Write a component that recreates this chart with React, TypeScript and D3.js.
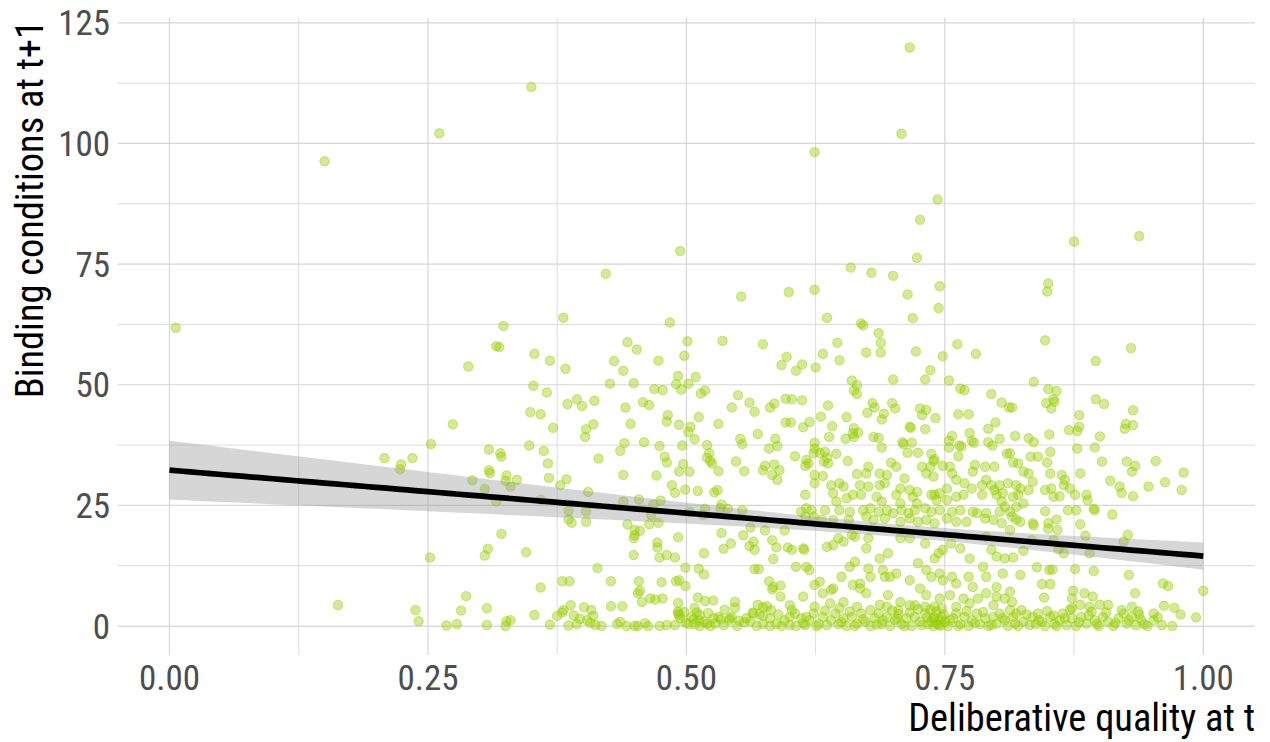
import React from "react";
import * as d3 from "d3";

// ---- Data (x = deliberative quality at t, y = binding conditions at t+1) ----
const groupOutliers: [number, number][] = [
  [0.150, 96.3], [0.261, 102.1], [0.350, 111.7], [0.422, 73.0], [0.494, 77.7],
  [0.716, 119.9], [0.708, 102.0], [0.624, 98.2], [0.743, 88.4], [0.726, 84.2], [0.723, 76.3],
  [0.875, 79.7], [0.938, 80.8], [0.659, 74.3], [0.679, 73.2], [0.700, 72.6], [0.745, 70.4],
  [0.714, 68.7], [0.850, 71.0], [0.849, 69.3], [0.599, 69.2], [0.624, 69.7], [0.553, 68.3],
  [0.006, 61.8], [0.163, 4.35],
];

const groupA: [number, number][] = [
  [0.381, 63.9], [0.323, 62.2], [0.316, 58.0], [0.319, 57.8], [0.353, 56.4], [0.368, 55.0], [0.383, 53.3],
  [0.289, 53.8], [0.352, 49.8], [0.365, 48.4], [0.385, 46.0], [0.394, 47.0], [0.399, 45.6], [0.349, 44.3],
  [0.359, 43.9], [0.371, 41.1], [0.403, 40.8], [0.402, 39.2], [0.274, 41.8], [0.253, 37.7], [0.348, 37.4],
  [0.362, 36.3], [0.366, 33.7], [0.309, 36.6], [0.320, 35.8], [0.321, 35.1], [0.208, 34.8], [0.224, 33.5],
  [0.223, 32.5], [0.235, 34.8], [0.309, 32.3],
  [0.293, 30.2], [0.310, 31.7], [0.326, 31.2], [0.325, 30.1], [0.330, 28.9], [0.336, 30.3], [0.305, 28.4],
  [0.316, 25.8], [0.359, 26.2], [0.367, 30.7], [0.378, 29.2], [0.384, 30.4], [0.405, 27.8], [0.386, 23.9],
  [0.386, 22.1], [0.389, 21.4], [0.403, 21.6], [0.403, 23.8], [0.321, 19.1], [0.308, 16.0], [0.305, 14.6],
  [0.345, 15.3], [0.252, 14.2], [0.380, 9.3], [0.387, 9.3], [0.359, 8.0], [0.287, 6.2], [0.238, 3.3],
  [0.241, 1.0], [0.282, 3.2], [0.307, 3.7], [0.268, 0.1], [0.278, 0.4], [0.307, 0.2], [0.325, 0],
  [0.326, 1.0], [0.330, 1.2], [0.353, 2.3], [0.368, 0.3], [0.375, 2.1], [0.380, 2.8], [0.381, 3.3],
  [0.388, 4.3], [0.386, 0.1], [0.394, 0.4], [0.401, 3.9], [0.397, 1.5], [0.391, 2.2],
];

const groupB: [number, number][] = [
  [0.484, 62.9], [0.443, 58.8], [0.452, 57.3], [0.501, 59.0], [0.535, 59.1], [0.574, 58.4], [0.597, 55.8],
  [0.592, 54.1], [0.606, 52.9], [0.430, 54.9], [0.439, 52.9], [0.473, 55.0], [0.498, 56.0], [0.492, 51.8],
  [0.509, 51.6], [0.490, 50.1], [0.495, 49.0], [0.502, 50.2], [0.426, 50.2], [0.449, 50.3], [0.469, 49.1],
  [0.477, 48.9], [0.514, 48.2], [0.518, 48.8], [0.411, 46.7], [0.441, 45.3], [0.458, 46.4], [0.464, 45.8],
  [0.550, 47.8], [0.561, 46.3], [0.544, 45.3], [0.566, 44.4], [0.581, 45.3], [0.585, 46.1], [0.596, 47.1],
  [0.602, 47.0], [0.482, 43.7], [0.481, 42.4], [0.493, 41.7], [0.512, 43.3], [0.410, 41.8], [0.446, 41.9],
  [0.504, 41.3], [0.502, 40.2], [0.508, 38.7], [0.531, 41.9], [0.569, 39.8], [0.596, 42.2], [0.601, 42.2],
  [0.552, 38.8], [0.554, 37.7], [0.586, 38.8], [0.588, 37.3], [0.580, 36.8], [0.440, 37.9], [0.436, 36.3],
  [0.459, 38.1], [0.474, 37.3], [0.496, 37.4], [0.520, 37.5], [0.522, 35.8], [0.520, 34.9], [0.523, 34.2],
  [0.525, 33.7], [0.479, 35.1], [0.481, 33.9], [0.415, 34.7], [0.548, 34.1], [0.576, 33.2], [0.585, 33.5],
  [0.605, 35.2], [0.497, 33.6],
  [0.439, 31.3], [0.471, 31.2], [0.493, 32.0], [0.503, 32.0], [0.531, 32.1], [0.556, 32.1], [0.574, 32.3],
  [0.583, 31.3], [0.588, 30.3], [0.590, 32.3], [0.486, 29.2], [0.489, 27.6], [0.499, 28.3], [0.511, 28.0],
  [0.527, 27.7], [0.530, 28.2], [0.439, 25.8], [0.454, 26.2], [0.468, 25.2], [0.475, 26.0], [0.534, 25.2],
  [0.540, 24.3], [0.533, 24.4], [0.554, 24.0], [0.518, 24.3], [0.503, 23.7], [0.516, 23.0], [0.466, 23.0],
  [0.443, 21.1], [0.464, 21.1], [0.473, 21.4], [0.450, 19.9], [0.455, 19.7], [0.449, 18.2], [0.450, 18.8],
  [0.492, 18.4], [0.472, 17.3], [0.472, 16.3], [0.449, 14.7], [0.474, 14.2], [0.481, 14.7], [0.489, 14.2],
  [0.517, 15.1], [0.534, 19.3], [0.536, 16.0], [0.543, 17.1], [0.555, 18.8], [0.562, 20.4], [0.561, 16.6],
  [0.565, 17.5], [0.566, 15.8], [0.576, 19.8], [0.583, 17.8], [0.587, 16.3], [0.584, 13.9], [0.595, 19.8],
  [0.598, 16.3], [0.602, 15.8], [0.499, 12.1], [0.512, 11.9], [0.517, 10.7], [0.566, 11.8], [0.570, 11.8],
  [0.606, 12.3], [0.414, 12.0], [0.427, 9.3], [0.454, 9.3], [0.476, 9.1], [0.490, 9.3], [0.493, 9.5],
  [0.499, 8.3], [0.453, 6.8], [0.455, 7.3], [0.457, 5.0], [0.465, 5.7], [0.470, 5.5], [0.477, 5.7],
  [0.427, 4.1], [0.438, 4.1], [0.492, 4.8], [0.492, 3.0], [0.493, 2.3], [0.511, 5.9], [0.518, 5.2],
  [0.526, 5.3], [0.508, 3.8], [0.510, 2.8], [0.547, 5.0], [0.547, 3.8], [0.580, 9.3], [0.584, 8.1],
  [0.583, 7.6], [0.591, 8.4], [0.591, 6.1], [0.569, 4.4], [0.574, 3.9], [0.578, 4.1], [0.582, 3.3],
  [0.564, 2.8], [0.571, 2.5], [0.574, 2.1], [0.581, 1.6], [0.600, 4.3], [0.602, 3.3], [0.600, 1.9],
  [0.605, 2.6],
  [0.408, 3.3], [0.410, 2.1], [0.407, 0.7], [0.412, 0.2], [0.418, 0], [0.433, 0.4], [0.436, 0.9],
  [0.442, 0], [0.450, 0], [0.453, 0], [0.463, 0], [0.474, 0], [0.481, 0.2], [0.489, 0.2], [0.492, 2.6],
  [0.494, 1.6], [0.499, 0.7], [0.502, 0.4], [0.505, 1.9], [0.507, 1.4], [0.508, 0.4], [0.512, 1.2],
  [0.513, 0], [0.513, 2.3], [0.517, 0.9], [0.523, 0], [0.526, 1.6], [0.528, 0.5], [0.531, 1.9],
  [0.533, 1.4], [0.536, 0.2], [0.541, 1.2], [0.542, 1.6], [0.544, 1.9], [0.549, 0], [0.551, 1.1],
  [0.558, 1.6], [0.565, 2.6], [0.568, 0], [0.574, 0.4], [0.581, 0], [0.587, 0.4], [0.592, 0],
  [0.600, 0.2], [0.606, 0], [0.404, 1.2], [0.498, 2.9], [0.521, 2.7], [0.537, 3.4], [0.556, 0.8],
  [0.562, 1.0], [0.589, 2.4], [0.595, 1.2], [0.460, 0.6], [0.520, 0.5],
];

const groupC: [number, number][] = [
  [0.744, 65.9], [0.636, 63.9], [0.719, 63.8], [0.669, 62.7], [0.671, 62.3], [0.686, 60.7], [0.688, 58.7],
  [0.646, 58.7], [0.632, 56.4], [0.648, 55.1], [0.674, 56.7], [0.688, 56.7], [0.722, 56.9], [0.748, 55.9],
  [0.762, 58.4], [0.780, 56.4], [0.612, 54.2], [0.625, 53.6], [0.736, 53.0], [0.731, 51.1], [0.700, 51.1],
  [0.754, 50.9], [0.660, 50.9], [0.665, 49.9], [0.662, 48.8], [0.665, 48.1], [0.765, 49.2], [0.769, 48.9],
  [0.795, 48.1], [0.805, 46.3], [0.812, 45.3], [0.612, 46.8], [0.637, 45.7], [0.680, 46.2], [0.682, 45.3],
  [0.675, 44.2], [0.691, 44.0], [0.689, 42.8], [0.699, 46.2], [0.702, 45.1], [0.726, 45.1], [0.732, 44.8],
  [0.728, 43.7], [0.741, 43.1], [0.763, 43.9], [0.773, 43.9], [0.630, 43.4], [0.655, 43.3], [0.619, 42.3],
  [0.613, 41.2], [0.641, 41.4], [0.662, 41.0], [0.666, 40.1], [0.662, 39.2], [0.661, 39.9], [0.638, 39.2],
  [0.654, 38.8], [0.681, 39.2], [0.686, 39.0], [0.689, 37.0], [0.716, 41.3], [0.717, 41.1], [0.731, 40.8],
  [0.709, 38.1], [0.710, 37.7], [0.718, 38.0], [0.714, 35.9], [0.724, 35.9], [0.792, 40.9], [0.799, 42.2],
  [0.774, 40.0], [0.757, 39.4], [0.754, 38.4], [0.754, 37.0], [0.764, 37.4], [0.766, 37.2], [0.763, 35.2],
  [0.776, 38.4], [0.778, 38.0], [0.792, 38.1], [0.796, 37.4], [0.803, 38.8], [0.810, 35.7], [0.624, 38.0],
  [0.624, 36.8], [0.623, 35.8], [0.629, 35.9], [0.634, 36.1], [0.636, 34.9], [0.633, 34.1], [0.637, 33.7],
  [0.645, 35.7], [0.616, 34.4], [0.615, 33.2], [0.618, 33.7], [0.656, 34.2], [0.676, 33.0], [0.698, 33.9],
  [0.703, 33.0], [0.728, 33.0], [0.737, 35.7], [0.739, 34.2], [0.740, 34.5], [0.736, 33.0], [0.748, 33.2],
  [0.755, 33.0], [0.779, 33.4], [0.789, 33.0], [0.798, 33.0],
  [0.624, 31.3], [0.632, 31.1], [0.665, 31.5], [0.674, 31.6], [0.687, 31.6], [0.694, 31.3], [0.711, 30.6],
  [0.732, 31.6], [0.739, 31.0], [0.757, 31.6], [0.761, 30.3], [0.777, 32.0], [0.790, 30.3], [0.803, 29.2],
  [0.624, 29.6], [0.640, 29.2], [0.648, 29.6], [0.652, 28.9], [0.668, 29.2], [0.676, 28.9], [0.687, 29.2],
  [0.692, 29.6], [0.707, 28.5], [0.716, 28.2], [0.723, 27.8], [0.740, 27.2], [0.745, 27.5], [0.752, 28.5],
  [0.769, 29.6], [0.776, 28.5], [0.786, 29.2], [0.795, 29.2], [0.798, 28.2], [0.806, 27.5], [0.811, 29.6],
  [0.615, 27.2], [0.642, 27.5], [0.645, 25.8], [0.655, 26.5], [0.661, 27.2], [0.669, 27.2], [0.684, 26.8],
  [0.689, 25.8], [0.703, 27.2], [0.707, 25.4], [0.719, 26.8], [0.723, 25.4], [0.737, 27.2], [0.742, 26.1],
  [0.752, 26.1], [0.761, 26.8], [0.768, 27.2], [0.786, 27.2], [0.800, 27.2], [0.805, 25.8],
  [0.616, 24.4], [0.621, 24.0], [0.611, 23.7], [0.634, 24.0], [0.648, 24.0], [0.658, 23.7], [0.671, 24.0],
  [0.678, 24.4], [0.686, 23.7], [0.694, 24.0], [0.700, 23.4], [0.708, 24.0], [0.715, 23.4], [0.721, 24.0],
  [0.731, 24.4], [0.737, 23.7], [0.745, 24.0], [0.757, 23.7], [0.765, 24.0], [0.777, 23.7], [0.790, 23.4],
  [0.803, 23.7], [0.808, 24.7], [0.615, 22.7], [0.623, 22.7], [0.631, 22.0], [0.642, 22.0], [0.657, 22.0],
  [0.674, 22.7], [0.681, 22.0], [0.692, 22.3], [0.707, 21.6], [0.716, 22.3], [0.724, 21.6], [0.732, 22.0],
  [0.740, 21.3], [0.752, 22.3], [0.761, 21.6], [0.771, 21.6], [0.781, 23.4], [0.789, 22.3], [0.797, 22.0],
  [0.805, 21.3],
  [0.613, 16.1], [0.614, 15.8], [0.636, 16.4], [0.642, 16.8], [0.647, 18.2], [0.652, 17.5], [0.660, 18.9],
  [0.663, 18.5], [0.676, 18.2], [0.674, 16.1], [0.687, 14.0], [0.695, 15.1], [0.707, 18.2], [0.716, 18.2],
  [0.731, 17.1], [0.744, 15.1], [0.748, 15.8], [0.756, 17.1], [0.765, 16.1], [0.774, 14.0], [0.790, 18.5],
  [0.795, 15.8], [0.800, 14.4], [0.808, 14.0], [0.616, 12.3], [0.619, 11.6], [0.629, 9.2], [0.642, 7.8],
  [0.650, 10.2], [0.658, 12.3], [0.663, 13.3], [0.668, 8.8], [0.676, 11.9], [0.678, 10.2], [0.690, 11.6],
  [0.692, 10.2], [0.697, 10.2], [0.703, 10.9], [0.716, 9.5], [0.724, 13.0], [0.726, 7.8], [0.732, 11.6],
  [0.737, 10.2], [0.740, 14.0], [0.745, 10.9], [0.748, 9.5], [0.757, 10.2], [0.761, 8.8], [0.773, 10.2],
  [0.777, 8.1], [0.787, 12.3], [0.790, 10.2], [0.800, 8.1], [0.806, 10.9],
  [0.613, 6.1], [0.624, 8.5], [0.632, 6.8], [0.640, 7.5], [0.652, 5.0], [0.661, 8.5], [0.668, 7.8],
  [0.674, 6.8], [0.687, 4.4], [0.695, 6.4], [0.707, 5.0], [0.716, 4.3], [0.721, 4.3], [0.732, 6.4],
  [0.745, 5.7], [0.755, 6.4], [0.768, 5.7], [0.782, 5.7], [0.790, 6.8], [0.800, 6.1], [0.808, 5.7],
  [0.624, 4.0], [0.639, 4.7], [0.648, 3.7], [0.665, 4.0], [0.678, 3.3], [0.694, 4.0], [0.705, 3.3],
  [0.731, 4.0], [0.740, 4.0], [0.747, 3.7], [0.761, 4.0], [0.774, 4.7], [0.797, 4.3],
  [0.611, 1.6], [0.615, 0.2], [0.619, 1.2], [0.623, 2.6], [0.628, 0.4], [0.632, 1.9], [0.636, 0.2],
  [0.640, 1.2], [0.644, 2.6], [0.647, 0.4], [0.652, 1.6], [0.655, 0], [0.660, 1.9], [0.665, 0.5],
  [0.669, 2.6], [0.673, 0.9], [0.678, 0], [0.682, 1.6], [0.686, 2.6], [0.689, 0.4], [0.694, 1.9],
  [0.697, 0], [0.702, 1.2], [0.705, 2.5], [0.708, 0.4], [0.713, 1.6], [0.718, 0], [0.721, 1.9],
  [0.726, 0.9], [0.731, 2.6], [0.734, 0.4], [0.739, 1.6], [0.742, 3.0], [0.744, 0.2], [0.747, 1.9],
  [0.750, 0.9], [0.753, 0], [0.758, 1.6], [0.761, 2.6], [0.765, 0.4], [0.769, 1.9], [0.773, 0],
  [0.776, 1.2], [0.781, 2.6], [0.784, 0.4], [0.789, 1.6], [0.792, 0], [0.797, 1.9], [0.800, 0.5],
  [0.803, 2.6], [0.808, 1.2], [0.811, 0], [0.740, 1.9], [0.745, 1.2], [0.742, 0.5], [0.739, 0],
  [0.690, 1.2], [0.616, 1.9], [0.613, 0.5],
  [0.626, 0], [0.634, 3.2], [0.650, 0.8], [0.658, 3.0], [0.663, 0], [0.671, 1.4], [0.684, 0.3],
  [0.699, 3.2], [0.711, 0], [0.716, 2.8], [0.728, 0.2], [0.736, 3.4], [0.749, 2.4], [0.755, 1.2],
  [0.763, 0], [0.771, 3.1], [0.779, 0.6], [0.787, 2.9], [0.795, 0.2], [0.806, 1.7], [0.737, 1.0],
  [0.746, 0.1], [0.733, 1.8], [0.724, 3.5], [0.704, 1.5],
];

const groupD: [number, number][] = [
  [0.847, 59.2], [0.930, 57.6], [0.896, 54.9], [0.836, 50.6], [0.850, 49.1], [0.858, 48.7], [0.848, 46.2],
  [0.855, 47.0], [0.856, 46.5], [0.853, 45.1], [0.815, 45.3], [0.896, 47.0], [0.904, 46.0], [0.932, 44.7],
  [0.880, 43.7], [0.880, 41.3], [0.878, 40.4], [0.870, 40.6], [0.900, 39.3], [0.925, 41.9], [0.932, 41.6],
  [0.924, 40.9], [0.818, 39.4], [0.831, 38.9], [0.836, 38.1], [0.851, 39.7], [0.878, 36.8], [0.895, 37.0],
  [0.852, 36.1], [0.833, 35.1], [0.840, 35.1], [0.813, 35.8], [0.816, 33.9], [0.821, 33.7], [0.849, 33.9],
  [0.902, 34.1], [0.926, 34.1], [0.934, 33.2], [0.954, 34.2], [0.981, 31.8],
  [0.826, 32.0], [0.831, 31.6], [0.852, 31.6], [0.863, 31.3], [0.866, 30.3], [0.865, 29.2], [0.881, 31.6],
  [0.931, 32.0], [0.819, 29.2], [0.823, 28.5], [0.831, 28.2], [0.835, 29.9], [0.847, 28.2], [0.853, 28.5],
  [0.855, 26.8], [0.861, 26.9], [0.871, 28.5], [0.876, 27.2], [0.887, 27.2], [0.888, 26.1], [0.910, 30.1],
  [0.919, 28.9], [0.921, 27.6], [0.932, 26.9], [0.947, 28.9], [0.963, 29.8], [0.979, 28.2], [0.816, 26.8],
  [0.821, 27.2], [0.826, 25.4], [0.819, 24.7], [0.813, 23.7], [0.815, 22.7], [0.819, 22.1], [0.823, 21.6],
  [0.835, 21.3], [0.836, 20.9], [0.847, 23.8], [0.850, 21.3], [0.850, 20.2], [0.858, 22.1], [0.859, 19.9],
  [0.869, 24.0], [0.877, 24.0], [0.881, 21.1], [0.894, 24.3], [0.895, 24.0], [0.886, 18.7], [0.912, 23.1],
  [0.927, 18.9], [0.923, 17.5], [0.813, 19.9], [0.834, 17.8], [0.855, 17.8], [0.860, 15.9], [0.865, 15.1],
  [0.826, 15.6], [0.890, 15.1], [0.816, 14.2], [0.823, 10.6], [0.839, 12.2], [0.851, 11.6], [0.854, 11.7],
  [0.844, 8.7], [0.852, 8.7], [0.876, 11.8], [0.894, 11.4], [0.928, 10.6], [0.961, 8.8], [0.966, 8.3],
  [0.934, 6.8], [1.000, 7.3], [0.813, 7.1], [0.815, 5.0], [0.846, 5.9], [0.874, 7.3], [0.873, 5.7],
  [0.885, 6.8], [0.893, 6.1], [0.890, 4.0], [0.873, 3.7], [0.881, 4.4], [0.900, 4.4], [0.908, 4.4],
  [0.921, 3.3], [0.931, 4.0], [0.937, 3.0], [0.952, 2.6], [0.962, 4.2], [0.972, 3.8], [0.978, 2.4],
  [0.993, 1.8],
  [0.813, 3.3], [0.816, 1.9], [0.819, 2.6], [0.824, 3.3], [0.818, 0.5], [0.826, 0.9], [0.832, 0.2],
  [0.835, 1.9], [0.840, 2.6], [0.844, 0.9], [0.847, 0], [0.852, 1.9], [0.856, 0.4], [0.861, 1.2],
  [0.864, 2.6], [0.868, 0.2], [0.873, 1.6], [0.877, 0], [0.882, 1.9], [0.887, 0.5], [0.892, 3.0],
  [0.895, 1.2], [0.899, 0], [0.903, 1.9], [0.908, 0.9], [0.913, 0], [0.918, 1.6], [0.923, 2.6],
  [0.926, 0.5], [0.931, 1.9], [0.935, 0.2], [0.940, 1.2], [0.943, 0.4], [0.952, 1.2], [0.960, 0.2],
  [0.970, 0],
  [0.821, 0], [0.829, 2.4], [0.838, 0.4], [0.849, 3.1], [0.858, 0], [0.866, 1.6], [0.871, 3.4],
  [0.880, 0.8], [0.889, 2.2], [0.897, 0.4], [0.906, 2.8], [0.915, 0.6], [0.928, 1.2], [0.938, 2.4],
  [0.946, 0], [0.956, 1.8], [0.841, 1.2], [0.855, 2.2],
];

// Linear fit (geom_smooth, method = "lm")
const fitIntercept = 32.3;
const fitSlope = -17.8;
const ciScale = 8.45;
const ciBase = 0.0235;
const ciCentre = 0.705;

const xMajor = [0, 0.25, 0.5, 0.75, 1.0];
const xMinor = [0.125, 0.375, 0.625, 0.875];
const xTickLabels = ["0.00", "0.25", "0.50", "0.75", "1.00"];
const yMajor = [0, 25, 50, 75, 100, 125];
const yMinor = [12.5, 37.5, 62.5, 87.5, 112.5];
const yTickLabels = ["0", "25", "50", "75", "100", "125"];

const xTitle = "Deliberative quality at t";
const yTitle = "Binding conditions at t+1";

export default function App() {
  const W = 1270;
  const H = 742;
  const left = 117.8, right = 1255, top = 18, bottom = 655;

  const x = d3.scaleLinear().domain([-0.05, 1.05]).range([left, right]);
  const y = d3.scaleLinear().domain([-6, 126]).range([bottom, top]);

  const points = [...groupOutliers, ...groupA, ...groupB, ...groupC, ...groupD];

  const fitXs = d3.range(0, 1.0001, 0.01);
  const fitY = (v: number) => fitIntercept + fitSlope * v;
  const hw = (v: number) => ciScale * Math.sqrt(ciBase + (v - ciCentre) ** 2);

  const ribbon = d3
    .area<number>()
    .x((d) => x(d))
    .y0((d) => y(fitY(d) - hw(d)))
    .y1((d) => y(fitY(d) + hw(d)))(fitXs) as string;
  const line = d3
    .line<number>()
    .x((d) => x(d))
    .y((d) => y(fitY(d)))(fitXs) as string;

  const font = "'Roboto Condensed', Roboto, sans-serif";
  const green = "#99CC00";

  return (
    <svg
      width={W}
      height={H}
      style={{ position: "fixed", left: 0, top: 0, background: "#fff" }}
    >
      <rect x={0} y={0} width={W} height={H} fill="#fff" />
      {/* grid */}
      {yMinor.map((v) => (
        <line key={"ym" + v} x1={left} x2={right} y1={y(v)} y2={y(v)} stroke="#dcdcdc" strokeWidth={1} />
      ))}
      {xMinor.map((v) => (
        <line key={"xm" + v} y1={top} y2={bottom} x1={x(v)} x2={x(v)} stroke="#dcdcdc" strokeWidth={1} />
      ))}
      {yMajor.map((v) => (
        <line key={"yM" + v} x1={left} x2={right} y1={y(v)} y2={y(v)} stroke="#d6d6d6" strokeWidth={1.2} />
      ))}
      {xMajor.map((v) => (
        <line key={"xM" + v} y1={top} y2={bottom} x1={x(v)} x2={x(v)} stroke="#d6d6d6" strokeWidth={1.2} />
      ))}

      {/* points */}
      {points.map((p, i) => (
        <circle
          key={i}
          cx={x(p[0])}
          cy={y(p[1])}
          r={4.7}
          fill={green}
          fillOpacity={0.42}
          stroke={green}
          strokeOpacity={0.42}
          strokeWidth={1.1}
        />
      ))}

      {/* smooth */}
      <path d={ribbon} fill="#999999" fillOpacity={0.4} stroke="none" />
      <path d={line} fill="none" stroke="#000" strokeWidth={5.7} />

      {/* x tick labels */}
      {xMajor.map((v, i) => (
        <text
          key={"xt" + v}
          x={x(v)}
          y={690}
          textAnchor="middle"
          fontFamily={font}
          fontSize={35}
          fill="#4d4d4d"
        >
          {xTickLabels[i]}
        </text>
      ))}
      {/* y tick labels */}
      {yMajor.map((v, i) => (
        <text
          key={"yt" + v}
          x={110}
          y={y(v) + 12.5}
          textAnchor="end"
          fontFamily={font}
          fontSize={35}
          fill="#4d4d4d"
        >
          {yTickLabels[i]}
        </text>
      ))}

      {/* axis titles */}
      <text
        x={right}
        y={731}
        textAnchor="end"
        fontFamily={font}
        fontSize={38.4}
        fill="#000"
      >
        {xTitle}
      </text>
      <text
        transform={`translate(43,${top + 2}) rotate(-90)`}
        textAnchor="end"
        fontFamily={font}
        fontSize={38.4}
        fill="#000"
      >
        {yTitle}
      </text>
    </svg>
  );
}
